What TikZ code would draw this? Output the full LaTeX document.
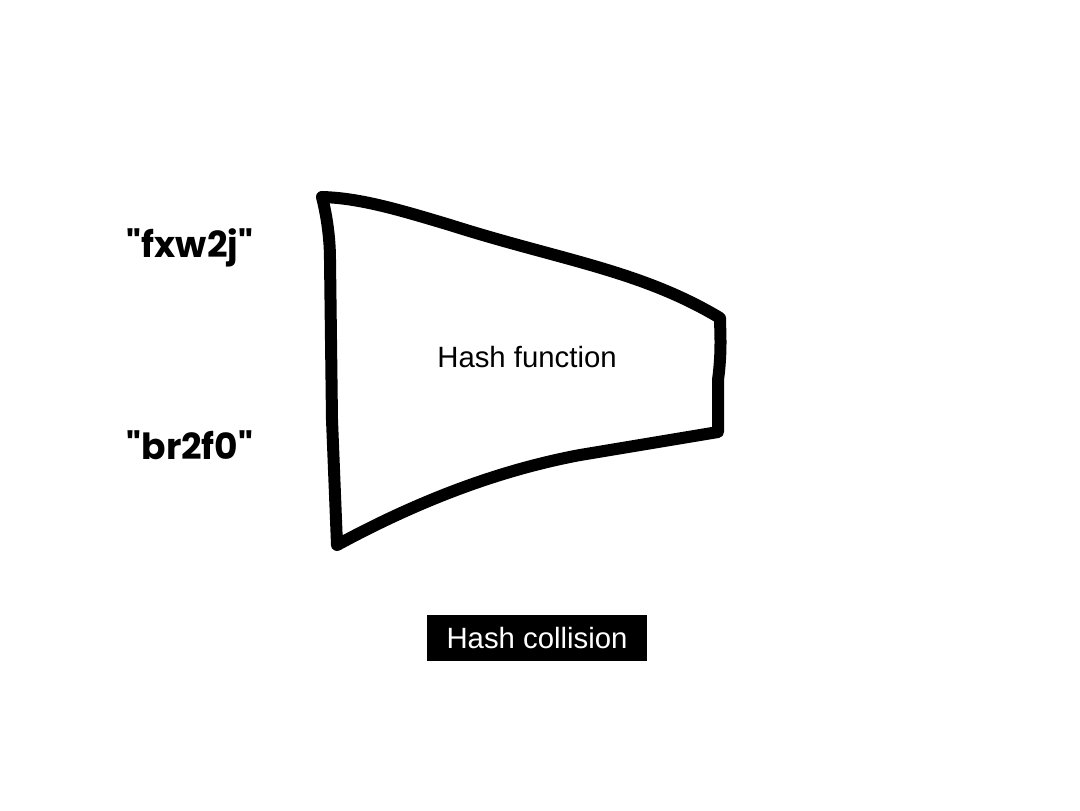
\documentclass[tikz,border=0pt]{standalone}
\usepackage{fontspec}
\setmainfont{Liberation Sans}
\newfontfamily\popp{Poppins}
\begin{document}
\begin{tikzpicture}[x=0.75pt,y=-0.75pt,
  lbl/.style={font=\popp\bfseries\fontsize{27}{30}\selectfont,inner sep=0},
  hand/.style={line width=9pt,line join=round,line cap=round}]
\useasboundingbox (0,0) rectangle (1080,810);
\draw[hand] (322,197) .. controls (324,205) and (330,230) .. (330,260)
  -- (332,420) -- (337,545) .. controls (420,500) and (500,470) .. (580,455)
  -- (718,432) -- (718,380) .. controls (722,350) and (720,330) .. (720,318)
  .. controls (640,270) and (560,260) .. (450,225) .. controls (400,210) and (360,198) .. (322,197);
\node[font=\fontsize{22}{26}\selectfont] (hf) at (527,357) {Hash function};
\node[lbl] (a) at (190,248) {\textquotedbl fxw2j\textquotedbl};
\node[lbl] (b) at (190,445) {\textquotedbl br2f0\textquotedbl};
\node[fill=black,text=white,minimum width=165pt,minimum height=35pt,inner sep=0,
  font=\fontsize{22}{26}\selectfont] (c) at (537,638) {Hash collision};
\end{tikzpicture}
\end{document}
